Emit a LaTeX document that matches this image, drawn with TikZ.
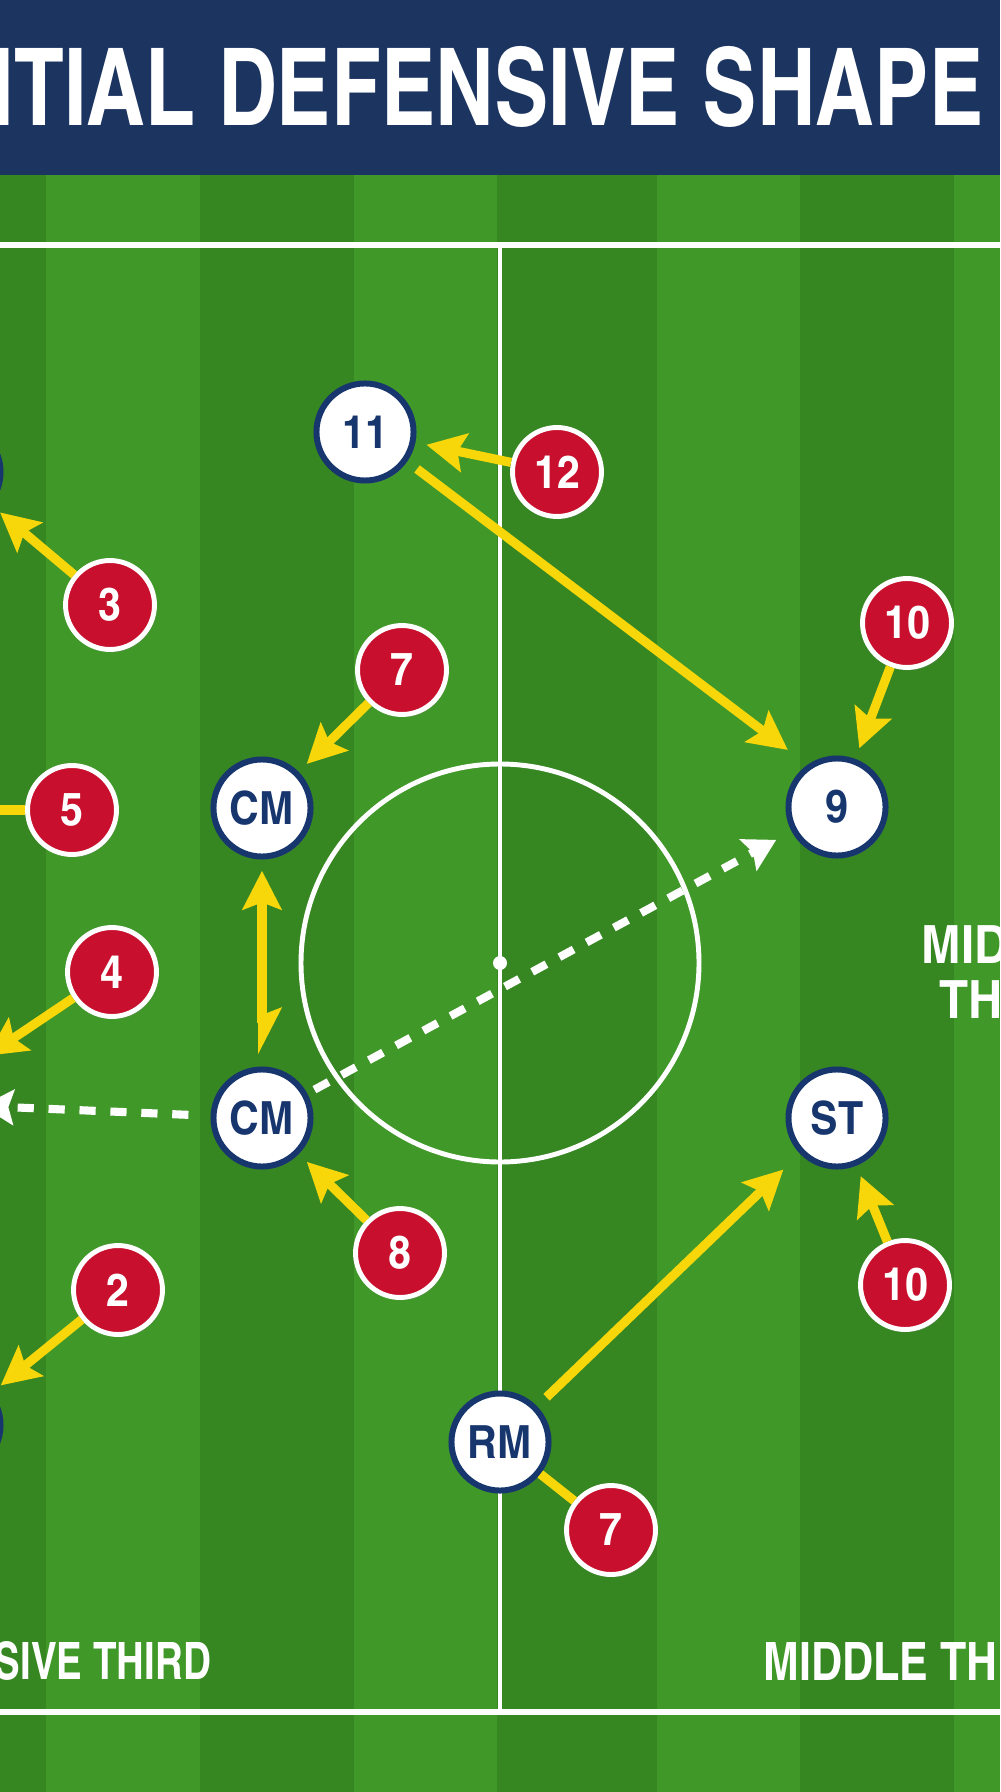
\documentclass[tikz,border=0pt]{standalone}
\usepackage{graphicx}
\usepackage{fontspec}
\setmainfont{TeX Gyre Heros}
\newfontfamily\condfont{texgyreheroscn-bold.otf}[FakeStretch=1.1]
\usetikzlibrary{arrows.meta, shadows}
\definecolor{pitchlight}{RGB}{64,152,40}
\definecolor{pitchdark}{RGB}{54,134,34}
\definecolor{bannerblue}{RGB}{28,52,96}
\definecolor{ringblue}{RGB}{24,54,110}
\definecolor{shirtred}{RGB}{200,16,46}
\definecolor{runyellow}{RGB}{247,214,10}

\begin{document}
\begin{tikzpicture}[x=0.01cm, y=-0.01cm,
  us/.style={circle, fill=white, draw=ringblue, line width=1.7pt, minimum size=27.6pt, inner sep=0pt,
    text=ringblue, font=\condfont\fontsize{13}{13}\selectfont,
    drop shadow={shadow xshift=0.5pt, shadow yshift=-0.8pt, opacity=0.3}},
  them/.style={circle, fill=shirtred, draw=white, line width=1.4pt, minimum size=25.3pt, inner sep=0pt,
    text=white, font=\condfont\fontsize{13}{13}\selectfont,
    drop shadow={shadow xshift=0.5pt, shadow yshift=-0.8pt, opacity=0.3}},
  run/.style={draw=runyellow, line width=2.6pt, -{Stealth[length=11pt, width=11pt, inset=2pt]}, shorten >=3.2pt},
  pass/.style={draw=white, line width=2.3pt, dash pattern=on 4.6pt off 4.2pt, -{Stealth[length=9pt, width=10pt, inset=1.5pt]}},
  zone/.style={text=white, font=\condfont\fontsize{15}{15}\selectfont, inner sep=0pt}]
  \useasboundingbox (0,0) rectangle (1000,1792);
  \clip (0,0) rectangle (1000,1792);

  % pitch
  \fill [pitchlight] (0,0) rectangle (1000,1792);
  \foreach \a/\b in {0/46, 200/354, 497/657, 800/954}
    \fill [pitchdark] (\a,0) rectangle (\b,1792);
  \fill [bannerblue] (0,0) rectangle (1000,175);
  \draw [white, line width=1.5pt] (0,245) -- (1000,245);
  \draw [white, line width=1.5pt] (0,1712) -- (1000,1712);
  \draw [white, line width=1.3pt] (500,245) -- (500,1712);
  \draw [white, line width=1.4pt] (500,963) circle [radius=199];
  \fill [white] (500,963) circle [radius=7];

  \node [anchor=west, inner sep=0pt, text=white] (title) at (-9,87)
    {\resizebox{282pt}{22.5pt}{\condfont ITIAL DEFENSIVE SHAPE}};
  \node [zone, anchor=west] (defthird) at (-6,1661) {\resizebox{61.5pt}{10.8pt}{SIVE THIRD}};
  \node [zone, anchor=west] (midthird) at (763,1661) {\resizebox{66.6pt}{10.8pt}{MIDDLE TH}};
  \node [zone, anchor=west] (midtop) at (921,945) {MID};
  \node [zone, anchor=west] (midbot) at (939,1000) {THI};

  % players
  \node [us] (lwt) at (-48,472) {};
  \node [us] (lwb) at (-48,1425) {};
  \node [us] (p11) at (365,432) {11};
  \node [us] (cmt) at (262,808) {CM};
  \node [us] (cmb) at (262,1118) {CM};
  \node [us] (p9) at (837,807) {9};
  \node [us] (st) at (837,1118) {ST};
  \node [us] (rm) at (500,1442) {RM};

  \node [them] (r3) at (110,605) {3};
  \node [them] (r5) at (72,810) {5};
  \node [them] (r7) at (402,670) {7};
  \node [them] (r12) at (557,472) {12};
  \node [them] (r10) at (907,623) {10};
  \node [them] (r4) at (112,972) {4};
  \node [them] (r2) at (118,1290) {2};
  \node [them] (r8) at (400,1253) {8};
  \node [them] (r10b) at (905,1285) {10};
  \node [them] (r7b) at (611,1530) {7};

  \coordinate (offa) at (-80,810);
  \coordinate (offb) at (-22,1062);
  \coordinate (offc) at (-18,1106);

  % runs
  \draw [run] (r3) -- (lwt);
  \draw [run] (r5) -- (offa);
  \draw [run] (r7) -- (cmt);
  \draw [run] (r12) -- (p11);
  \draw [run, shorten <=3.5pt, shorten >=7pt] (p11.-35) -- (p9.125);
  \draw [run] (r10) -- (p9);
  \draw [run] (r4) -- (offb);
  \draw [run] (r2) -- (lwb);
  \draw [run] (r8) -- (cmb);
  \draw [run] (r10b) -- (st);
  \draw [run, shorten <=3.7pt, shorten >=6.5pt] (rm) -- (st);
  \draw [runyellow, line width=2.6pt] (rm) -- (r7b);
  \draw [run, {Stealth[length=11pt, width=11pt, inset=2pt, left]}-{Stealth[length=11pt, width=11pt, inset=2pt]}, shorten <=3.4pt] (cmb) -- (cmt);

  % passes
  \draw [pass, shorten <=2.3pt, shorten >=5pt] (cmb) -- (p9);
  \draw [pass, shorten <=6.3pt] (cmb) -- (offc);
\end{tikzpicture}
\end{document}
